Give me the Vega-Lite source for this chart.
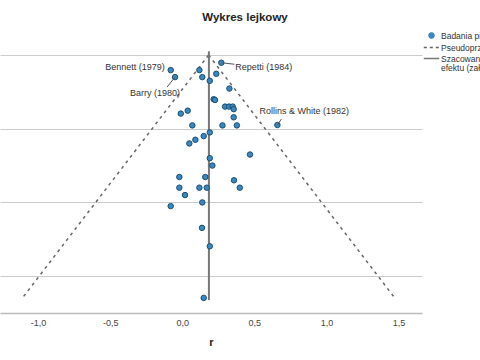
{
  "$schema": "https://vega.github.io/schema/vega-lite/v6.json",
  "width": 422,
  "height": 258,
  "autosize": "none",
  "padding": {"left": 0, "top": 55, "right": 58, "bottom": 47},
  "background": "white",
  "config": {"font": "Liberation Sans", "view": {"stroke": null}},
  "title": {"text": "Wykres lejkowy", "fontSize": 11.5, "fontWeight": "bold", "color": "#222", "anchor": "middle", "frame": "group", "dx": 34, "offset": 6},
  "datasets": {
    "studies": [
      {"r": -0.080, "se": 0.041, "name": "Bennett (1979)", "series": "Badania pierwotne"},
      {"r": -0.050, "se": 0.060, "name": "Barry (1980)", "series": "Badania pierwotne"},
      {"r": 0.119, "se": 0.041, "name": "", "series": "Badania pierwotne"},
      {"r": 0.139, "se": 0.060, "name": "", "series": "Badania pierwotne"},
      {"r": 0.191, "se": 0.070, "name": "", "series": "Badania pierwotne"},
      {"r": 0.271, "se": 0.021, "name": "Repetti (1984)", "series": "Badania pierwotne"},
      {"r": 0.236, "se": 0.051, "name": "", "series": "Badania pierwotne"},
      {"r": 0.327, "se": 0.091, "name": "", "series": "Badania pierwotne"},
      {"r": 0.218, "se": 0.120, "name": "", "series": "Badania pierwotne"},
      {"r": 0.227, "se": 0.122, "name": "", "series": "Badania pierwotne"},
      {"r": 0.297, "se": 0.140, "name": "", "series": "Badania pierwotne"},
      {"r": 0.325, "se": 0.140, "name": "", "series": "Badania pierwotne"},
      {"r": 0.350, "se": 0.140, "name": "", "series": "Badania pierwotne"},
      {"r": 0.357, "se": 0.147, "name": "", "series": "Badania pierwotne"},
      {"r": 0.357, "se": 0.169, "name": "", "series": "Badania pierwotne"},
      {"r": -0.010, "se": 0.159, "name": "", "series": "Badania pierwotne"},
      {"r": 0.038, "se": 0.151, "name": "", "series": "Badania pierwotne"},
      {"r": 0.070, "se": 0.191, "name": "", "series": "Badania pierwotne"},
      {"r": 0.279, "se": 0.191, "name": "", "series": "Badania pierwotne"},
      {"r": 0.379, "se": 0.191, "name": "", "series": "Badania pierwotne"},
      {"r": 0.660, "se": 0.190, "name": "Rollins & White (1982)", "series": "Badania pierwotne"},
      {"r": 0.191, "se": 0.210, "name": "", "series": "Badania pierwotne"},
      {"r": 0.149, "se": 0.220, "name": "", "series": "Badania pierwotne"},
      {"r": 0.091, "se": 0.230, "name": "", "series": "Badania pierwotne"},
      {"r": 0.049, "se": 0.240, "name": "", "series": "Badania pierwotne"},
      {"r": 0.470, "se": 0.270, "name": "", "series": "Badania pierwotne"},
      {"r": 0.191, "se": 0.280, "name": "", "series": "Badania pierwotne"},
      {"r": 0.209, "se": 0.300, "name": "", "series": "Badania pierwotne"},
      {"r": -0.020, "se": 0.331, "name": "", "series": "Badania pierwotne"},
      {"r": 0.160, "se": 0.331, "name": "", "series": "Badania pierwotne"},
      {"r": 0.359, "se": 0.340, "name": "", "series": "Badania pierwotne"},
      {"r": -0.020, "se": 0.360, "name": "", "series": "Badania pierwotne"},
      {"r": 0.119, "se": 0.360, "name": "", "series": "Badania pierwotne"},
      {"r": 0.170, "se": 0.360, "name": "", "series": "Badania pierwotne"},
      {"r": 0.399, "se": 0.360, "name": "", "series": "Badania pierwotne"},
      {"r": 0.019, "se": 0.380, "name": "", "series": "Badania pierwotne"},
      {"r": 0.139, "se": 0.400, "name": "", "series": "Badania pierwotne"},
      {"r": -0.080, "se": 0.410, "name": "", "series": "Badania pierwotne"},
      {"r": 0.137, "se": 0.469, "name": "", "series": "Badania pierwotne"},
      {"r": 0.191, "se": 0.519, "name": "", "series": "Badania pierwotne"},
      {"r": 0.149, "se": 0.659, "name": "", "series": "Badania pierwotne"}
    ],
    "funnel": [
      {"r": 0.183, "se": 0, "side": "L", "series": "Pseudoprzedział ufności 95%"},
      {"r": -1.100, "se": 0.655, "side": "L", "series": "Pseudoprzedział ufności 95%"},
      {"r": 0.183, "se": 0, "side": "R", "series": "Pseudoprzedział ufności 95%"},
      {"r": 1.466, "se": 0.655, "side": "R", "series": "Pseudoprzedział ufności 95%"}
    ],
    "effect": [
      {"r": 0.185, "se0": -0.01, "se1": 0.665, "series": "Szacowana wielkość efektu (założenie efektów stałych)"}
    ]
  },
  "layer": [
    {
      "data": {"name": "funnel"},
      "mark": {"type": "line", "strokeDash": [3, 4], "strokeWidth": 1.5},
      "encoding": {
        "x": {"field": "r", "type": "quantitative", "scale": {"domain": [-1.264, 1.663], "nice": false, "zero": false},
          "axis": {"title": "r", "titleFontSize": 11, "titleFontWeight": "bold", "titleColor": "#222", "titlePadding": 9,
            "values": [-1, -0.5, 0, 0.5, 1, 1.5], "format": ".1f", "labelExpr": "replace(replace(datum.label, '.', ','), '−', '-')",
            "labelFontSize": 9, "labelColor": "#444", "labelPadding": 5, "ticks": false, "grid": false,
            "domainColor": "#bbb", "domainWidth": 1.5}},
        "y": {"field": "se", "type": "quantitative", "scale": {"domain": [0, 0.7], "reverse": true, "nice": false, "zero": false},
          "axis": {"title": null, "labels": false, "ticks": false, "domain": false, "grid": true, "values": [0, 0.2, 0.4, 0.6], "gridColor": "#ccc", "gridWidth": 1.2}},
        "detail": {"field": "side"},
        "color": {"field": "series", "type": "nominal",
          "scale": {"domain": ["Badania pierwotne", "Pseudoprzedział ufności 95%", "Szacowana wielkość efektu (założenie efektów stałych)"], "range": ["#3b87bd", "#666666", "#777777"]},
          "legend": {"orient": "none", "legendX": 425, "legendY": -26, "title": null, "labelFontSize": 8.5, "labelColor": "#333",
            "labelExpr": "datum.value === 'Szacowana wielkość efektu (założenie efektów stałych)' ? ['Szacowana wielkość', 'efektu (założenie efektów stałych)'] : datum.label",
            "labelLimit": 300, "rowPadding": 0, "labelOffset": 3,
            "encode": {
              "labels": {"update": {"lineHeight": {"value": 9}}},
              "symbols": {"update": {
              "shape": {"signal": "datum.value === 'Badania pierwotne' ? 'circle' : 'M-1.4,0H1.4'"},
              "size": {"signal": "datum.value === 'Badania pierwotne' ? 25 : 121"},
              "fill": {"signal": "datum.value === 'Badania pierwotne' ? '#3b87bd' : 'transparent'"},
              "stroke": {"signal": "datum.value === 'Badania pierwotne' ? '#1b4f72' : '#666666'"},
              "strokeDash": {"signal": "datum.value === 'Pseudoprzedział ufności 95%' ? [3, 3] : [1, 0]"},
              "strokeWidth": {"value": 1.5},
              "opacity": {"value": 1}
            }}}}
        }
      }
    },
    {
      "data": {"name": "effect"},
      "mark": {"type": "rule", "strokeWidth": 2},
      "encoding": {
        "x": {"field": "r", "type": "quantitative"},
        "y": {"field": "se0", "type": "quantitative"},
        "y2": {"field": "se1"},
        "color": {"field": "series", "type": "nominal"}
      }
    },
    {
      "data": {"name": "studies"},
      "layer": [
        {
          "mark": {"type": "point", "filled": true, "shape": "circle", "size": 30, "stroke": "#1b4f72", "strokeWidth": 1, "opacity": 1},
          "encoding": {
            "x": {"field": "r", "type": "quantitative"},
            "y": {"field": "se", "type": "quantitative"},
            "color": {"field": "series", "type": "nominal"}
          }
        },
        {
          "transform": [{"filter": "datum.name === 'Bennett (1979)'"}],
          "mark": {"type": "text", "align": "right", "baseline": "middle", "dx": -6, "dy": -3, "fontSize": 9, "color": "#333"},
          "encoding": {"x": {"field": "r", "type": "quantitative"}, "y": {"field": "se", "type": "quantitative"}, "text": {"field": "name"}}
        },
        {
          "transform": [{"filter": "datum.name === 'Barry (1980)'"}],
          "mark": {"type": "text", "align": "right", "baseline": "middle", "dx": 5, "dy": 16, "fontSize": 9, "color": "#333"},
          "encoding": {"x": {"field": "r", "type": "quantitative"}, "y": {"field": "se", "type": "quantitative"}, "text": {"field": "name"}}
        },
        {
          "transform": [{"filter": "datum.name === 'Barry (1980)'"}],
          "mark": {"type": "rule", "color": "#555", "strokeWidth": 1, "x2Offset": -8, "y2Offset": 10},
          "encoding": {"x": {"field": "r", "type": "quantitative"}, "y": {"field": "se", "type": "quantitative"}, "x2": {"field": "r"}, "y2": {"field": "se"}}
        },
        {
          "transform": [{"filter": "datum.name === 'Repetti (1984)'"}],
          "mark": {"type": "text", "align": "left", "baseline": "middle", "dx": 14, "dy": 4.5, "fontSize": 9, "color": "#333"},
          "encoding": {"x": {"field": "r", "type": "quantitative"}, "y": {"field": "se", "type": "quantitative"}, "text": {"field": "name"}}
        },
        {
          "transform": [{"filter": "datum.name === 'Repetti (1984)'"}],
          "mark": {"type": "rule", "color": "#555", "strokeWidth": 1, "x2Offset": 13, "y2Offset": 1.5},
          "encoding": {"x": {"field": "r", "type": "quantitative"}, "y": {"field": "se", "type": "quantitative"}, "x2": {"field": "r"}, "y2": {"field": "se"}}
        },
        {
          "transform": [{"filter": "datum.name === 'Rollins & White (1982)'"}],
          "mark": {"type": "text", "align": "left", "baseline": "middle", "dx": -18, "dy": -14, "fontSize": 9, "color": "#333"},
          "encoding": {"x": {"field": "r", "type": "quantitative"}, "y": {"field": "se", "type": "quantitative"}, "text": {"field": "name"}}
        },
        {
          "transform": [{"filter": "datum.name === 'Rollins & White (1982)'"}],
          "mark": {"type": "rule", "color": "#555", "strokeWidth": 1, "x2Offset": 4, "y2Offset": -6},
          "encoding": {"x": {"field": "r", "type": "quantitative"}, "y": {"field": "se", "type": "quantitative"}, "x2": {"field": "r"}, "y2": {"field": "se"}}
        }
      ]
    }
  ]
}
